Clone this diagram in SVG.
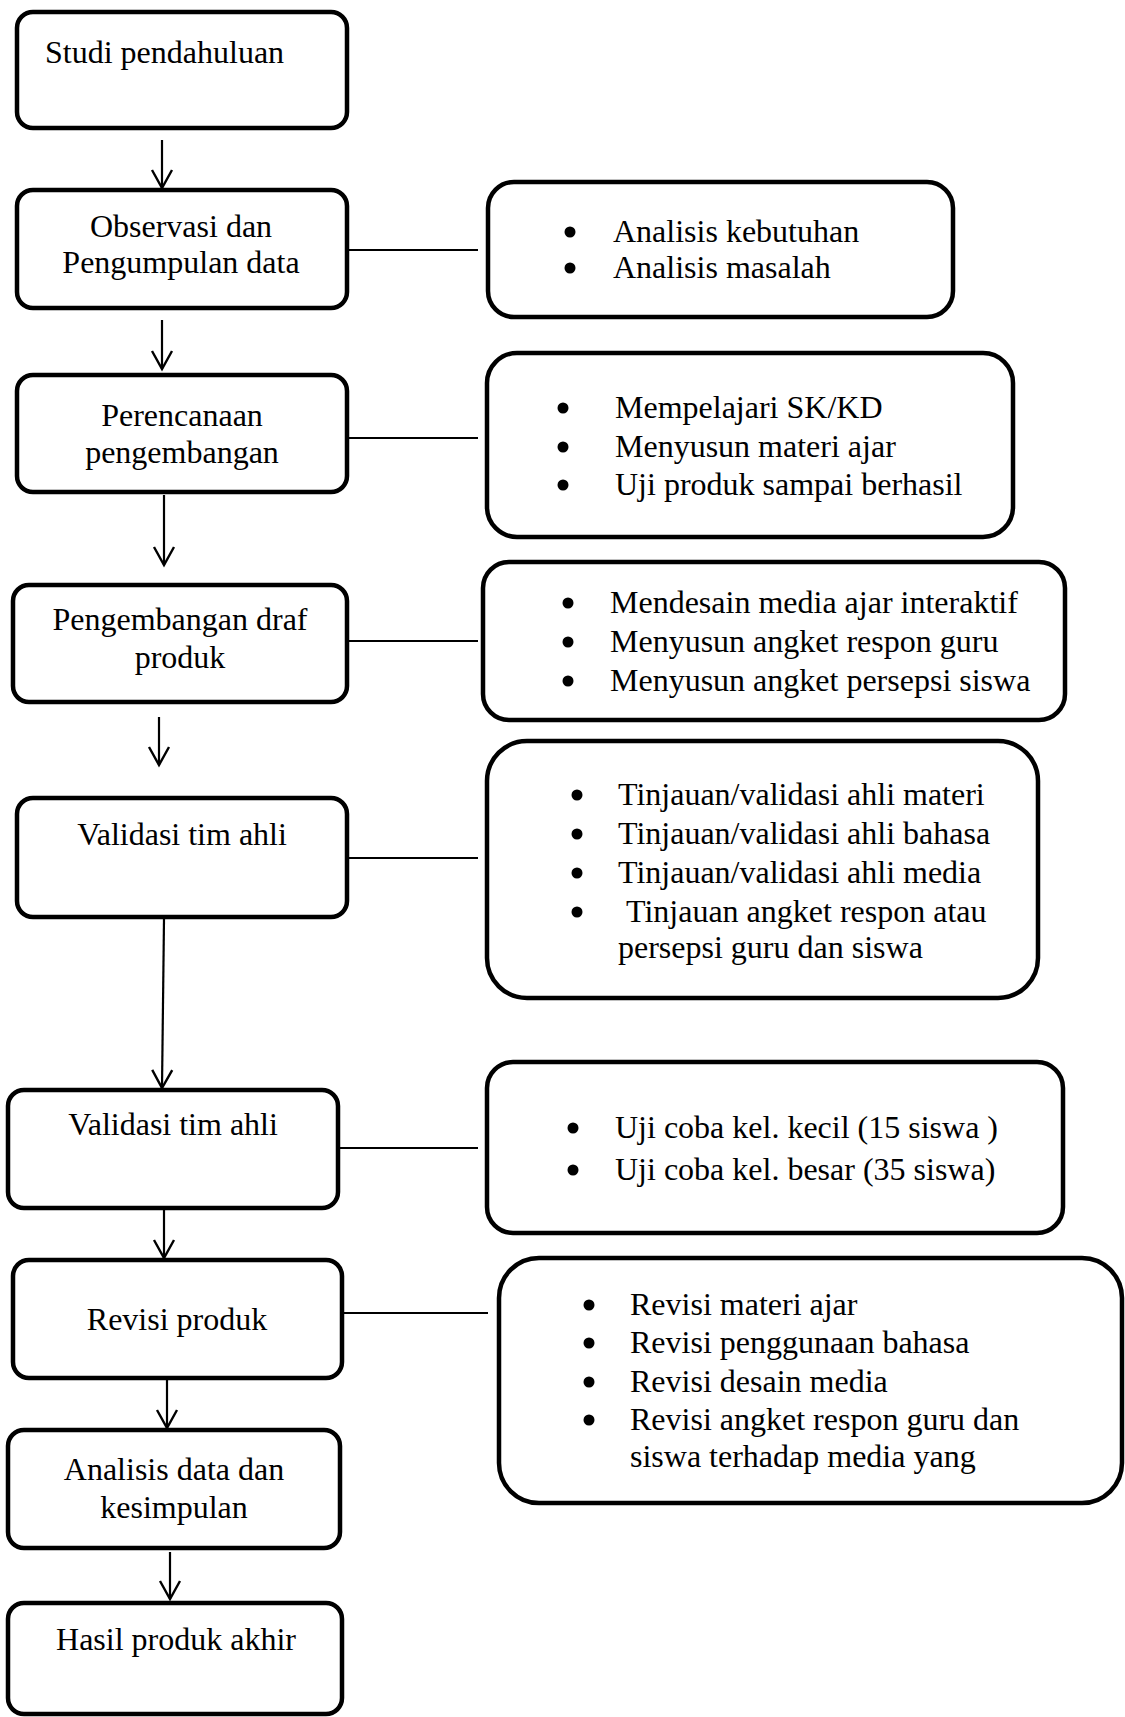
<svg xmlns="http://www.w3.org/2000/svg" width="1125" height="1717" viewBox="0 0 1125 1717">
<style>
  .box { fill: #ffffff; stroke: #000000; stroke-width: 4.5; }
  .t { font-family: "Liberation Serif", "Times New Roman", serif; font-size: 32px; fill: #000000; }
  .c { text-anchor: middle; }
  .line { stroke: #000000; stroke-width: 2.2; fill: none; }
  .dot { fill: #000000; }
</style>
<defs>
  <marker id="arrow" markerUnits="userSpaceOnUse" markerWidth="40" markerHeight="40" refX="0" refY="0" orient="auto" viewBox="-20 -20 40 40" overflow="visible">
    <path d="M -18 -10 L 0 0 L -18 10" fill="none" stroke="#000000" stroke-width="2.4"/>
  </marker>
</defs>

<g id="connectors">
  <line class="line" x1="162" y1="140" x2="162" y2="188" marker-end="url(#arrow)"/>
  <line class="line" x1="162" y1="320" x2="162" y2="369" marker-end="url(#arrow)"/>
  <line class="line" x1="164" y1="495" x2="164" y2="565" marker-end="url(#arrow)"/>
  <line class="line" x1="159" y1="717" x2="159" y2="765" marker-end="url(#arrow)"/>
  <line class="line" x1="164" y1="919" x2="162" y2="1088" marker-end="url(#arrow)"/>
  <line class="line" x1="164" y1="1210" x2="164" y2="1258" marker-end="url(#arrow)"/>
  <line class="line" x1="167" y1="1380" x2="167" y2="1428" marker-end="url(#arrow)"/>
  <line class="line" x1="170" y1="1552" x2="170" y2="1599" marker-end="url(#arrow)"/>
  <line class="line" x1="347" y1="250" x2="478" y2="250"/>
  <line class="line" x1="347" y1="438" x2="478" y2="438"/>
  <line class="line" x1="347" y1="641" x2="478" y2="641"/>
  <line class="line" x1="347" y1="858" x2="478" y2="858"/>
  <line class="line" x1="338" y1="1148" x2="478" y2="1148"/>
  <line class="line" x1="342" y1="1313" x2="488" y2="1313"/>
</g>

<g id="studi-pendahuluan">
  <rect class="box" x="17" y="12" width="330" height="116" rx="16"/>
  <text class="t" x="45" y="63">Studi pendahuluan</text>
</g>

<g id="observasi">
  <rect class="box" x="17" y="190" width="330" height="118" rx="16"/>
  <text class="t c" x="181" y="237">Observasi dan</text>
  <text class="t c" x="181" y="273">Pengumpulan data</text>
</g>

<g id="analisis-kebutuhan">
  <rect class="box" x="488" y="182" width="465" height="135" rx="26"/>
  <circle class="dot" cx="570" cy="232" r="5.5"/>
  <text class="t" x="613" y="242">Analisis kebutuhan</text>
  <circle class="dot" cx="570" cy="268" r="5.5"/>
  <text class="t" x="613" y="278">Analisis masalah</text>
</g>

<g id="perencanaan">
  <rect class="box" x="17" y="375" width="330" height="117" rx="16"/>
  <text class="t c" x="182" y="426">Perencanaan</text>
  <text class="t c" x="182" y="463">pengembangan</text>
</g>

<g id="perencanaan-detail">
  <rect class="box" x="487" y="353" width="526" height="184" rx="30"/>
  <circle class="dot" cx="563" cy="408" r="5.5"/>
  <text class="t" x="615" y="418">Mempelajari SK/KD</text>
  <circle class="dot" cx="563" cy="447" r="5.5"/>
  <text class="t" x="615" y="457">Menyusun materi ajar</text>
  <circle class="dot" cx="563" cy="485" r="5.5"/>
  <text class="t" x="615" y="495">Uji produk sampai berhasil</text>
</g>

<g id="pengembangan-draf">
  <rect class="box" x="13" y="585" width="334" height="117" rx="16"/>
  <text class="t c" x="180" y="630">Pengembangan draf</text>
  <text class="t c" x="180" y="668">produk</text>
</g>

<g id="pengembangan-detail">
  <rect class="box" x="483" y="562" width="582" height="158" rx="26"/>
  <circle class="dot" cx="568" cy="603" r="5.5"/>
  <text class="t" x="610" y="613">Mendesain media ajar interaktif</text>
  <circle class="dot" cx="568" cy="642" r="5.5"/>
  <text class="t" x="610" y="652">Menyusun angket respon guru</text>
  <circle class="dot" cx="568" cy="681" r="5.5"/>
  <text class="t" x="610" y="691">Menyusun angket persepsi siswa</text>
</g>

<g id="validasi-tim-ahli-1">
  <rect class="box" x="17" y="798" width="330" height="119" rx="16"/>
  <text class="t c" x="182" y="845">Validasi tim ahli</text>
</g>

<g id="validasi-detail">
  <rect class="box" x="487" y="741" width="551" height="257" rx="40"/>
  <circle class="dot" cx="577" cy="795" r="5.5"/>
  <text class="t" x="618" y="805">Tinjauan/validasi ahli materi</text>
  <circle class="dot" cx="577" cy="834" r="5.5"/>
  <text class="t" x="618" y="844">Tinjauan/validasi ahli bahasa</text>
  <circle class="dot" cx="577" cy="873" r="5.5"/>
  <text class="t" x="618" y="883">Tinjauan/validasi ahli media</text>
  <circle class="dot" cx="577" cy="912" r="5.5"/>
  <text class="t" x="626" y="922">Tinjauan angket respon atau</text>
  <text class="t" x="618" y="958">persepsi guru dan siswa</text>
</g>

<g id="validasi-tim-ahli-2">
  <rect class="box" x="8" y="1090" width="330" height="118" rx="16"/>
  <text class="t c" x="173" y="1135">Validasi tim ahli</text>
</g>

<g id="uji-coba">
  <rect class="box" x="487" y="1062" width="576" height="171" rx="26"/>
  <circle class="dot" cx="573" cy="1128" r="5.5"/>
  <text class="t" x="615" y="1138">Uji coba kel. kecil (15 siswa )</text>
  <circle class="dot" cx="573" cy="1170" r="5.5"/>
  <text class="t" x="615" y="1180">Uji coba kel. besar (35 siswa)</text>
</g>

<g id="revisi-produk">
  <rect class="box" x="13" y="1260" width="329" height="118" rx="16"/>
  <text class="t c" x="177" y="1330">Revisi produk</text>
</g>

<g id="revisi-detail">
  <rect class="box" x="499" y="1258" width="623" height="245" rx="40"/>
  <circle class="dot" cx="589" cy="1305" r="5.5"/>
  <text class="t" x="630" y="1315">Revisi materi ajar</text>
  <circle class="dot" cx="589" cy="1343" r="5.5"/>
  <text class="t" x="630" y="1353">Revisi penggunaan bahasa</text>
  <circle class="dot" cx="589" cy="1382" r="5.5"/>
  <text class="t" x="630" y="1392">Revisi desain media</text>
  <circle class="dot" cx="589" cy="1420" r="5.5"/>
  <text class="t" x="630" y="1430">Revisi angket respon guru dan</text>
  <text class="t" x="630" y="1467">siswa terhadap media yang</text>
</g>

<g id="analisis-data">
  <rect class="box" x="8" y="1430" width="332" height="118" rx="16"/>
  <text class="t c" x="174" y="1480">Analisis data dan</text>
  <text class="t c" x="174" y="1518">kesimpulan</text>
</g>

<g id="hasil-produk-akhir">
  <rect class="box" x="8" y="1603" width="334" height="111" rx="16"/>
  <text class="t c" x="176" y="1650">Hasil produk akhir</text>
</g>
</svg>
